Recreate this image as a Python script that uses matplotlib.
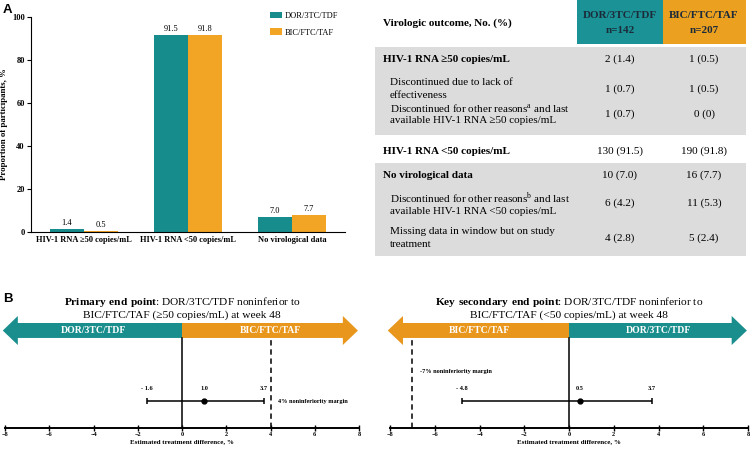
import matplotlib
matplotlib.use("Agg")
import matplotlib.pyplot as plt
from matplotlib.patches import Polygon, Rectangle
import numpy as np

plt.rcParams['font.family'] = ['Liberation Serif', 'DejaVu Serif']
plt.rcParams['mathtext.fontset'] = 'custom'
plt.rcParams['mathtext.rm'] = 'Liberation Serif'
plt.rcParams['mathtext.bf'] = 'Liberation Serif:bold'

# ---- panel A data
categories = ["HIV-1 RNA \u226550 copies/mL", "HIV-1 RNA <50 copies/mL", "No virological data"]
dor_pct = [1.4, 91.5, 7.0]
bic_pct = [0.5, 91.8, 7.7]
arms = ["DOR/3TC/TDF", "BIC/FTC/TAF"]
arm_n = [142, 207]

# table rows
row_labels = ["HIV-1 RNA \u226550 copies/mL",
              "Discontinued due to lack of\neffectiveness",
              "Discontinued for other reasons$^{\\mathrm{a}}$ and last\navailable HIV-1 RNA \u226550 copies/mL",
              "HIV-1 RNA <50 copies/mL",
              "No virological data",
              "Discontinued for other reasons$^{\\mathrm{b}}$ and last\navailable HIV-1 RNA <50 copies/mL",
              "Missing data in window but on study\ntreatment"]
row_bold = [True, False, False, True, True, False, False]
row_dor = ["2 (1.4)", "1 (0.7)", "1 (0.7)", "130 (91.5)", "10 (7.0)", "6 (4.2)", "4 (2.8)"]
row_bic = ["1 (0.5)", "1 (0.5)", "0 (0)", "190 (91.8)", "16 (7.7)", "11 (5.3)", "5 (2.4)"]

# ---- panel B data
primary_est, primary_lo, primary_hi, primary_margin = 1.0, -1.6, 3.7, 4
second_est, second_lo, second_hi, second_margin = 0.5, -4.8, 3.7, -7

TEAL = "#178c8c"
ORANGE = "#f2a424"
TEAL_HDR = "#1a9296"
ORANGE_HDR = "#eca020"
ARR_TEAL = "#1a8e8c"
ARR_ORANGE = "#e8961c"
GRAY = "#dcdcdc"
W, H = 750, 450

fig = plt.figure(figsize=(7.5, 4.5), dpi=100)


def px_axes(l, t, r, b):
    return fig.add_axes([l / W, 1 - b / H, (r - l) / W, (b - t) / H])


ov = fig.add_axes([0, 0, 1, 1])
ov.set_xlim(0, W)
ov.set_ylim(H, 0)
ov.axis('off')

ov.text(3, 10, "A", fontsize=9.5, fontweight='bold', family='Liberation Sans', va='center')
ov.text(3, 299, "B", fontsize=9.5, fontweight='bold', family='Liberation Sans', va='center')

# ---- bar chart
ax = px_axes(31, 17, 345, 232)
x = np.arange(len(categories))
w = 0.33
b1 = ax.bar(x - w / 2, dor_pct, w, color=TEAL, label=arms[0])
b2 = ax.bar(x + w / 2, bic_pct, w, color=ORANGE, label=arms[1])
for bars in (b1, b2):
    for r in bars:
        ax.annotate(f"{r.get_height():.1f}", (r.get_x() + r.get_width() / 2, r.get_height()),
                    xytext=(0, 1.5), textcoords='offset points', ha='center', va='bottom', fontsize=6)
ax.set_xlim(-0.51, 2.51)
ax.set_ylim(0, 100)
ax.set_yticks(np.arange(0, 101, 20))
ax.set_xticks(x)
ax.set_xticklabels(categories, fontweight='bold', fontsize=6)
for t in ax.get_yticklabels():
    t.set_fontweight('bold')
    t.set_fontsize(6)
ax.tick_params(axis='x', length=0, pad=3)
ax.tick_params(axis='y', length=3, pad=1.5, width=0.8)
ax.spines['top'].set_visible(False)
ax.spines['right'].set_visible(False)
ax.set_ylabel("Proportion of participants, %", fontweight='bold', fontsize=6.3)
ax.yaxis.set_label_coords(-23 / 314, 0.5)
ax.legend(loc='upper left', bbox_to_anchor=(262 / W, 1 - 4 / H), bbox_transform=fig.transFigure,
          frameon=False, fontsize=6, handlelength=1.45, handleheight=0.9, labelspacing=1.0,
          handletextpad=0.4)

# ---- table
ov.add_patch(Rectangle((577, 0), 86, 44, color=TEAL_HDR, lw=0))
ov.add_patch(Rectangle((663, 0), 83, 44, color=ORANGE_HDR, lw=0))
ov.text(620, 23, f"{arms[0]}\nn={arm_n[0]}", ha='center', va='center', fontsize=8,
        fontweight='bold', color='#1c2b39', linespacing=1.75)
ov.text(704, 23, f"{arms[1]}\nn={arm_n[1]}", ha='center', va='center', fontsize=8,
        fontweight='bold', color='#1c2b39', linespacing=1.75)
ov.text(383, 23, "Virologic outcome, No. (%)", ha='left', va='center', fontsize=8, fontweight='bold')
ov.add_patch(Rectangle((375, 47), 371, 88, color=GRAY, lw=0))
ov.add_patch(Rectangle((375, 163), 371, 93, color=GRAY, lw=0))
row_y = [59, 89, 114, 151, 175, 203, 238]
for lab, bold, d, bi, yy in zip(row_labels, row_bold, row_dor, row_bic, row_y):
    ov.text(383 if bold else 390, yy, lab, ha='left', va='center', fontsize=8,
            fontweight='bold' if bold else 'normal',
            linespacing=1.15 if '$' in lab else 1.5)
    ov.text(620, yy, d, ha='center', va='center', fontsize=8)
    ov.text(704, yy, bi, ha='center', va='center', fontsize=8)


# ---- forest plots
def forest(l, r, est, lo, hi, margin, left_arm, right_arm, left_col, right_col, title, margin_xy):
    fa = px_axes(l, 316, r, 428)
    fa.set_xlim(-8, 8)
    fa.set_ylim(0, 1)
    for s in ('top', 'right', 'left'):
        fa.spines[s].set_visible(False)
    fa.spines['bottom'].set_linewidth(1.4)
    fa.set_yticks([])
    fa.set_xticks(np.arange(-8, 9, 2))
    fa.tick_params(axis='x', direction='inout', length=4, width=1.0, pad=1, labelsize=4.5)
    for t in fa.get_xticklabels():
        t.set_fontweight('bold')
    fa.set_xlabel("Estimated treatment difference, %", fontsize=5, fontweight='bold', labelpad=1.5)
    bl, bh, hl, hh, mid = 0.804, 0.9375, 0.741, 1.0, 0.87
    hlen = 0.68
    tipl, tipr = -8.1, 7.95
    fa.add_patch(Polygon([(tipl, mid), (tipl + hlen, hh), (tipl + hlen, bh), (0, bh), (0, bl),
                          (tipl + hlen, bl), (tipl + hlen, hl)], closed=True, color=left_col,
                         lw=0, clip_on=False))
    fa.add_patch(Polygon([(0, bl), (0, bh), (tipr - hlen, bh), (tipr - hlen, hh), (tipr, mid),
                          (tipr - hlen, hl), (tipr - hlen, bl)], closed=True, color=right_col,
                         lw=0, clip_on=False))
    fa.text(-4, mid, left_arm, color='white', fontweight='bold', fontsize=7, ha='center', va='center')
    fa.text(4, mid, right_arm, color='white', fontweight='bold', fontsize=7, ha='center', va='center')
    fa.plot([0, 0], [0, bl], color='black', lw=1.1, clip_on=False)
    fa.plot([margin, margin], [0, 0.786], color='black', lw=1.1, ls=(0, (3.5, 2.5)), clip_on=False)
    fa.errorbar([est], [0.241], xerr=[[est - lo], [hi - est]], fmt='o', color='black', ms=3.5,
                lw=1.1, capsize=2.5, capthick=1.1, clip_on=False)
    for v in (lo, est, hi):
        s = f"- {abs(v):.1f}" if v < 0 else f"{v:.1f}"
        fa.text(v, 0.35, s, ha='center', va='center', fontsize=4.5, fontweight='bold')
    fa.text(margin_xy[0], margin_xy[1], f"{margin}% noninferiority margin", ha='left', va='center',
            fontsize=4.5, fontweight='bold')
    fa.text(0, 1.075, title, ha='center', va='center', fontsize=8.2, multialignment='center',
            linespacing=1.15)
    return fa


forest(5, 359, primary_est, primary_lo, primary_hi, primary_margin, arms[0], arms[1],
       ARR_TEAL, ARR_ORANGE,
       "$\\mathbf{Primary\\ end\\ point}$: DOR/3TC/TDF noninferior to\nBIC/FTC/TAF (\u226550 copies/mL) at week 48",
       (4.35, 0.241))
forest(390, 748, second_est, second_lo, second_hi, second_margin, arms[1], arms[0],
       ARR_ORANGE, ARR_TEAL,
       "$\\mathbf{Key\\ secondary\\ end\\ point}$: DOR/3TC/TDF noninferior to\nBIC/FTC/TAF (<50 copies/mL) at week 48",
       (-6.67, 0.5))

fig.savefig("out.png", dpi=100)
